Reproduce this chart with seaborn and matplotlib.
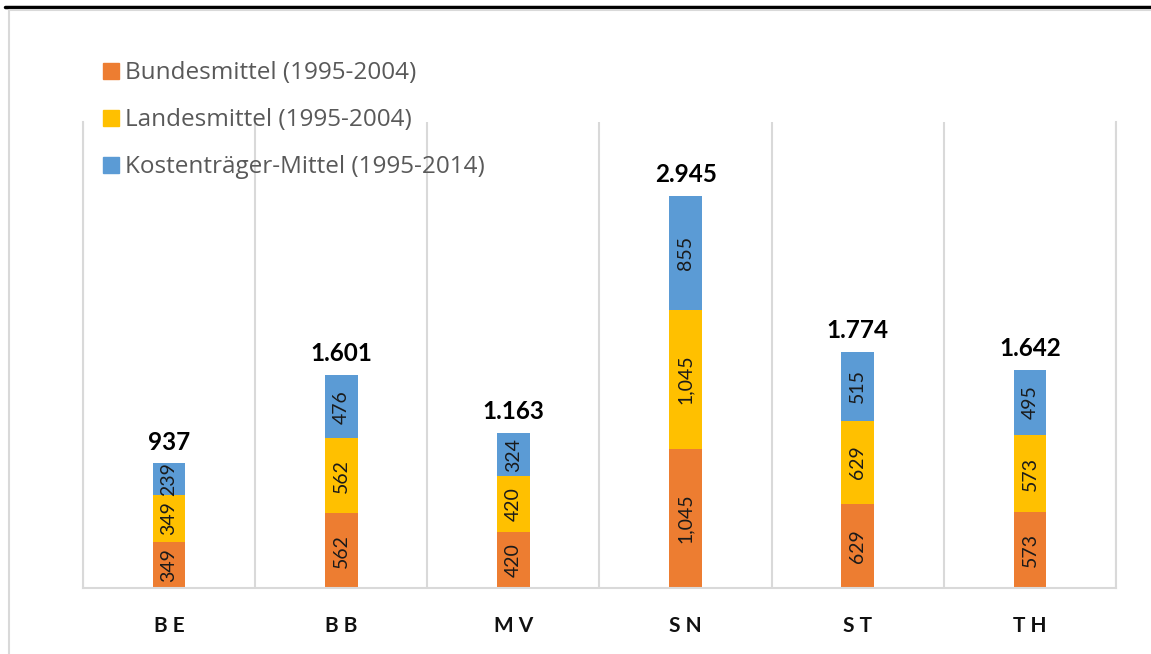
import pandas as pd
import matplotlib.pyplot as plt
import seaborn as sns
from matplotlib.lines import Line2D

# Data
states = ['BE', 'BB', 'MV', 'SN', 'ST', 'TH']
tick_labels = ['B E', 'B B', 'M V', 'S N', 'S T', 'T H']
bund = [349, 562, 420, 1045, 629, 573]
land = [349, 562, 420, 1045, 629, 573]
kost = [239, 476, 324, 855, 515, 495]
totals = [937, 1601, 1163, 2945, 1774, 1642]

series_names = ['Bundesmittel (1995-2004)', 'Landesmittel (1995-2004)',
                'Kostenträger-Mittel (1995-2014)']
colors = ['#ED7D31', '#FFC000', '#5B9BD5']

df = pd.DataFrame({'state': states, 'bund': bund, 'land': land, 'kost': kost})
df['c1'] = df['bund']
df['c2'] = df['bund'] + df['land']
df['c3'] = df['c2'] + df['kost']

sns.set_style('white')
plt.rcParams['font.family'] = ['Lato', 'DejaVu Sans']

fig = plt.figure(figsize=(11.51, 6.54), dpi=100)
ax = fig.add_axes([0.0721, 0.1009, 0.8975, 0.7126])

# stacked bars: draw cumulative heights, tallest first
for col, c in zip(['c3', 'c2', 'c1'], colors[::-1]):
    sns.barplot(data=df, x='state', y=col, order=states, color=c,
                width=0.19, saturation=1, ax=ax, linewidth=0)

# segment labels
for i in range(len(states)):
    bottom = 0
    for vals in (bund, land, kost):
        v = vals[i]
        ax.text(i, bottom + v / 2, f'{v:,}', rotation=90, ha='center', va='center',
                fontsize=14, color='#1a1a1a')
        bottom += v
    ax.annotate(f'{totals[i]:,}'.replace(',', '.'), (i, bottom), xytext=(0, 7),
                textcoords='offset points', ha='center', va='bottom',
                fontsize=17.5, fontweight='bold', color='black')

ax.set_xlim(-0.5, len(states) - 0.5)
ax.set_ylim(0, 3500)
ax.set_xlabel('')
ax.set_ylabel('')
ax.set_yticks([])
ax.set_xticks(range(len(states)))
ax.set_xticklabels(tick_labels, fontsize=15, fontweight='bold', color='#111111')
ax.tick_params(axis='x', length=0, pad=20)

# vertical separators between categories
ax.set_xticks([i - 0.5 for i in range(len(states) + 1)], minor=True)
ax.tick_params(axis='x', which='minor', length=0)
ax.grid(axis='x', which='minor', color='#d9d9d9', linewidth=1.5)
ax.set_axisbelow(True)
for side in ['left', 'right', 'bottom']:
    ax.spines[side].set_color('#d9d9d9')
    ax.spines[side].set_linewidth(1.5)
ax.spines['top'].set_visible(False)

# legend
handles = [Line2D([0], [0], marker='s', linestyle='', markersize=11,
                  markerfacecolor=c, markeredgecolor=c) for c in colors]
leg = fig.legend(handles, series_names, loc='upper left',
                 bbox_to_anchor=(0.0676, 0.94), frameon=False,
                 prop={'family': ['Open Sans', 'DejaVu Sans'], 'size': 17.5},
                 labelspacing=0.95, handletextpad=0.15, handlelength=0.9,
                 labelcolor='#595959')

# outer frame lines
fig.add_artist(Line2D([0.004, 1], [0.99, 0.99], color='black', linewidth=2.5,
                      transform=fig.transFigure))
fig.add_artist(Line2D([0.008, 0.008, 1], [0, 0.984, 0.984], color='#d9d9d9',
                      linewidth=1.5, transform=fig.transFigure))

fig.savefig('out.png', dpi=100)
